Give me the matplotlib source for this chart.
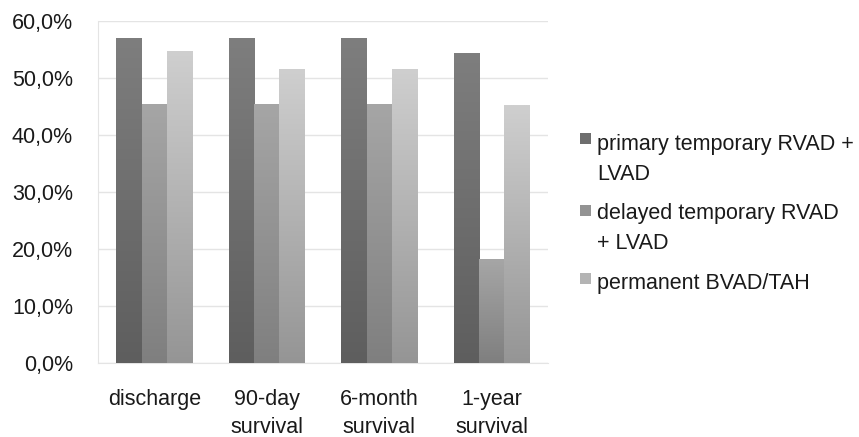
import numpy as np
import matplotlib
matplotlib.use("Agg")
import matplotlib.pyplot as plt
from matplotlib.patches import Rectangle
from matplotlib.colors import LinearSegmentedColormap

categories = ["discharge", "90-day\nsurvival", "6-month\nsurvival", "1-year\nsurvival"]
series_names = ["primary temporary RVAD +\nLVAD", "delayed temporary RVAD\n+ LVAD", "permanent BVAD/TAH"]
primary = [57.1, 57.1, 57.1, 54.3]
delayed = [45.5, 45.5, 45.5, 18.2]
permanent = [54.8, 51.6, 51.6, 45.2]
yticks = [0, 10, 20, 30, 40, 50, 60]
ytick_labels = ["0,0%", "10,0%", "20,0%", "30,0%", "40,0%", "50,0%", "60,0%"]

top_colors = ["#7e7e7e", "#a6a6a6", "#cfcfcf"]
bottom_colors = ["#5e5e5e", "#7f7f7f", "#959595"]
mid_colors = ["#6e6e6e", "#939393", "#b4b4b4"]

plt.rcParams['font.family'] = ['Liberation Sans', 'DejaVu Sans']

fig = plt.figure(figsize=(8.59, 4.37), dpi=100)
ax = fig.add_axes([98/859, 1-363/437, 450/859, 342/437])

x = np.arange(len(categories))
w = 0.225
series = [primary, delayed, permanent]
for i, vals in enumerate(series):
    bars = ax.bar(x + (i-1)*w, vals, width=w, color=mid_colors[i], zorder=2, linewidth=0)
    cmap = LinearSegmentedColormap.from_list(f"g{i}", [bottom_colors[i], top_colors[i]])
    grad = np.linspace(0, 1, 256).reshape(-1, 1)
    for b in bars:
        bx, by = b.get_x(), b.get_y()
        bw, bh = b.get_width(), b.get_height()
        im = ax.imshow(grad, cmap=cmap, origin='lower', aspect='auto',
                       extent=[bx, bx+bw, by, by+bh], zorder=3, interpolation='bilinear')
        im.set_clip_path(b)

ax.set_xlim(-0.5, len(categories)-0.5)
ax.set_ylim(0, 60)
ax.set_yticks(yticks)
ax.set_yticklabels(ytick_labels, fontsize=15.5, color="#1a1a1a")
ax.set_xticks(x)
ax.set_xticklabels(categories, fontsize=15.5, color="#1a1a1a", linespacing=1.48)
ax.tick_params(axis='y', length=0, pad=18)
ax.tick_params(axis='x', length=0, pad=18.5)
ax.grid(axis='y', color="#e4e4e4", linewidth=1, zorder=0)
ax.set_axisbelow(True)
for s in ["top", "right"]:
    ax.spines[s].set_visible(False)
ax.spines["left"].set_color("#e4e4e4")
ax.spines["bottom"].set_color("#e4e4e4")

# legend
entry_y = [143, 212, 282]
square_y = [138, 210, 278]
for i, name in enumerate(series_names):
    yc = entry_y[i]
    sy = square_y[i]
    fig.patches.append(Rectangle((580/859, 1-(sy+5.5)/437), 11/859, 11/437,
                                 transform=fig.transFigure, facecolor=mid_colors[i],
                                 edgecolor="none"))
    fig.text(597/859, 1-(yc-9)/437, name, fontsize=15.5, va='top', ha='left',
             color="#1a1a1a", linespacing=1.55)

fig.savefig("out.png", dpi=100)
